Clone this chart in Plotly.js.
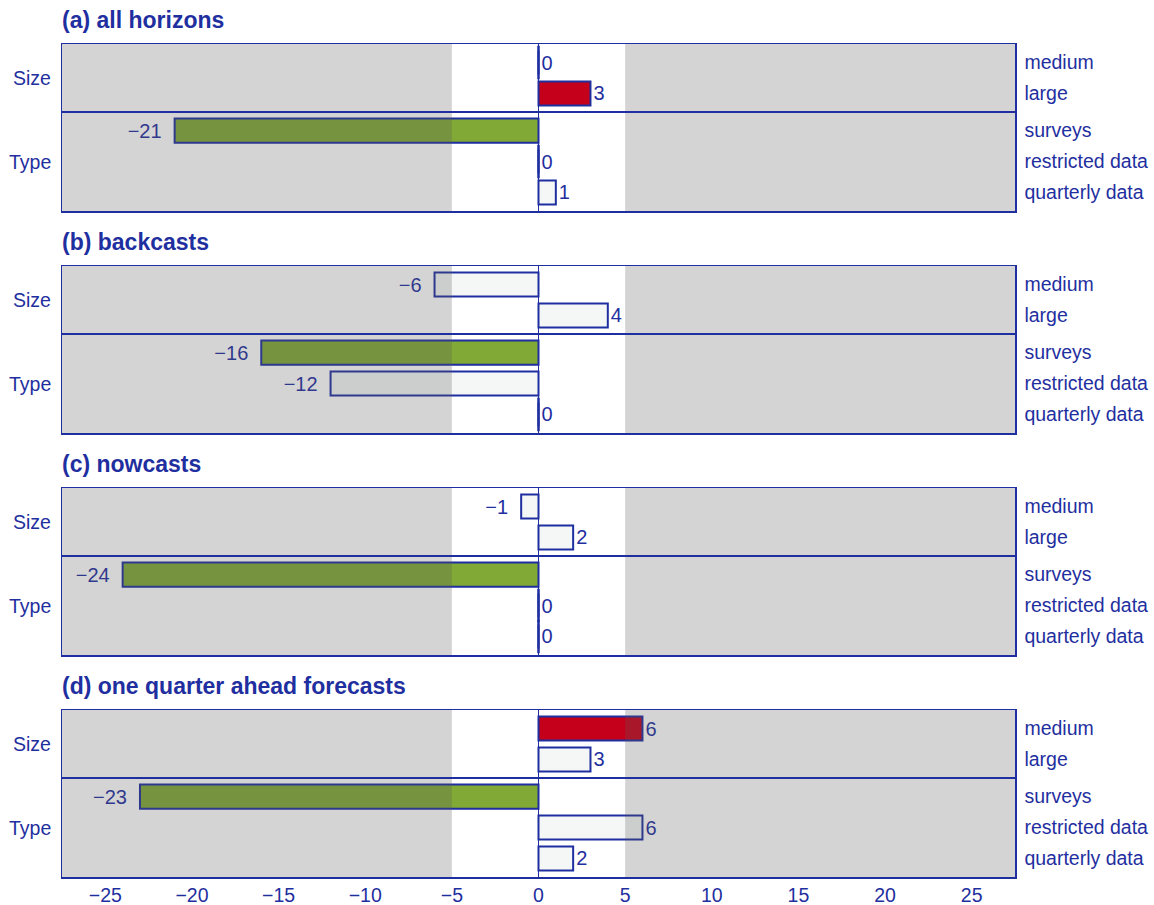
<!DOCTYPE html>
<html>
<head>
<meta charset="utf-8">
<script src="https://cdn.plot.ly/plotly-3.0.1.min.js"></script>
<style>
  html, body { margin: 0; padding: 0; background: #ffffff; }
  #chart { width: 1154px; height: 905px; }
</style>
</head>
<body>
<div id="chart"></div>
<script>
// Row labels (top to bottom within each panel) and their groups
const categories = ['medium', 'large', 'surveys', 'restricted data', 'quarterly data'];
const groups = ['Size', 'Type'];

// Panel titles
const panelTitles = [
  '(a) all horizons',
  '(b) backcasts',
  '(c) nowcasts',
  '(d) one quarter ahead forecasts'
];

// Values per panel (same order as categories)
const allHorizons   = [0, 3, -21, 0, 1];
const backcasts     = [-6, 4, -16, -12, 0];
const nowcasts      = [-1, 2, -24, 0, 0];
const oneQuarter    = [6, 3, -23, 6, 2];

// Highlighted (significant) entries per panel
const sigAllHorizons = [false, true, true, false, false];
const sigBackcasts   = [false, false, true, false, false];
const sigNowcasts    = [false, false, true, false, false];
const sigOneQuarter  = [true, false, true, false, false];

// x-axis ticks
const xTicks = [-25, -20, -15, -10, -5, 0, 5, 10, 15, 20, 25];

const panels = [
  { title: panelTitles[0], values: allHorizons, sig: sigAllHorizons },
  { title: panelTitles[1], values: backcasts,   sig: sigBackcasts },
  { title: panelTitles[2], values: nowcasts,    sig: sigNowcasts },
  { title: panelTitles[3], values: oneQuarter,  sig: sigOneQuarter }
];

// ---- styling ----
const BLUE = '#1f2fa0';
const RED = '#c4001a';
const GREEN = '#80a936';
const PALE = '#f5f7f7';
const SHADE = 'rgba(90,90,90,0.26)';
const FONT = 'Liberation Sans, Arial, sans-serif';
const XRANGE = [-27.5, 27.5];
const BAND = 5;            // unshaded band is [-BAND, BAND]
const GROUP_GAP = 0.2;     // extra space between Size and Type rows
const SIZE_ROWS = 2;       // first two rows belong to "Size"

// vertical position of each row on the numeric y axis
const rowPos = categories.map((c, i) => i + (i >= SIZE_ROWS ? GROUP_GAP : 0));
const sepPos = (rowPos[SIZE_ROWS - 1] + rowPos[SIZE_ROWS]) / 2;
const YRANGE = [rowPos[rowPos.length - 1] + 0.6, rowPos[0] - 0.6];

// panel domains (fractions of the plot area, top panel first)
const H = 833, PANEL = 167, GAP = 55;
const domains = panels.map((p, k) => {
  const top = k * (PANEL + GAP);
  return [1 - (top + PANEL) / H, 1 - top / H];
});

function fmt(v) {
  if (v < 0) return '\u2212' + Math.abs(v) + '\u2002';
  return String(v);
}

const data = [];
const layout = {
  width: 1154,
  height: 905,
  margin: { l: 62, r: 139, t: 44, b: 28 },
  paper_bgcolor: '#ffffff',
  plot_bgcolor: '#ffffff',
  showlegend: false,
  font: { family: FONT, color: BLUE, size: 20 },
  bargap: 0,
  annotations: [],
  shapes: []
};

panels.forEach((p, k) => {
  const n = k + 1;
  const xa = n === 1 ? 'x' : 'x' + n;
  const ya = n === 1 ? 'y' : 'y' + n;
  const xKey = n === 1 ? 'xaxis' : 'xaxis' + n;
  const yKey = n === 1 ? 'yaxis' : 'yaxis' + n;
  const last = k === panels.length - 1;

  data.push({
    type: 'bar',
    orientation: 'h',
    x: p.values,
    y: rowPos,
    xaxis: xa,
    yaxis: ya,
    width: 0.78,
    marker: {
      color: p.values.map((v, i) => p.sig[i] ? (v > 0 ? RED : GREEN) : PALE),
      line: { color: BLUE, width: 2 }
    },
    text: p.values.map(fmt),
    textposition: 'outside',
    textfont: { family: FONT, size: 20, color: BLUE },
    cliponaxis: false,
    hoverinfo: 'x+y'
  });

  // zero-valued entries are drawn as a short vertical stroke at 0
  const zeroIdx = p.values.map((v, i) => v === 0 ? i : -1).filter(i => i >= 0);
  data.push({
    type: 'scatter',
    mode: 'markers',
    x: zeroIdx.map(i => p.values[i]),
    y: zeroIdx.map(i => rowPos[i]),
    xaxis: xa,
    yaxis: ya,
    marker: { symbol: 'line-ns', size: 24, line: { color: BLUE, width: 2.5 } },
    cliponaxis: false,
    hoverinfo: 'skip'
  });

  layout[xKey] = {
    domain: [0, 1],
    anchor: ya,
    range: XRANGE,
    showgrid: false,
    zeroline: true,
    zerolinecolor: BLUE,
    zerolinewidth: 1,
    showline: true,
    mirror: true,
    linecolor: BLUE,
    linewidth: 1.5,
    ticks: '',
    tickvals: xTicks,
    showticklabels: last,
    tickfont: { family: FONT, size: 19.5, color: BLUE },
    fixedrange: true
  };
  if (!last) layout[xKey].matches = 'x4';

  layout[yKey] = {
    domain: domains[k],
    anchor: xa,
    side: 'right',
    range: YRANGE,
    showgrid: false,
    zeroline: false,
    showline: true,
    mirror: true,
    linecolor: BLUE,
    linewidth: 1.5,
    ticks: '',
    tickvals: rowPos,
    ticktext: categories,
    ticklabelstandoff: 4,
    tickfont: { family: FONT, size: 19.5, color: BLUE },
    fixedrange: true
  };

  // panel title
  layout.annotations.push({
    text: '<b>' + p.title + '</b>',
    xref: 'paper', yref: ya + ' domain',
    x: 0, y: 1, xanchor: 'left', yanchor: 'bottom',
    yshift: 9, xshift: -2,
    showarrow: false,
    font: { family: FONT, size: 23, color: BLUE }
  });

  // group labels on the left
  const sizeMid = (rowPos[0] + rowPos[SIZE_ROWS - 1]) / 2;
  const typeMid = (rowPos[SIZE_ROWS] + rowPos[rowPos.length - 1]) / 2;
  [[groups[0], sizeMid], [groups[1], typeMid]].forEach(([g, yv]) => {
    layout.annotations.push({
      text: g,
      xref: 'paper', yref: ya,
      x: 0, y: yv, xanchor: 'right', yanchor: 'middle',
      xshift: -9,
      showarrow: false,
      font: { family: FONT, size: 19.5, color: BLUE }
    });
  });

  // shaded regions outside the central band, laid over the bars
  layout.shapes.push({
    type: 'rect', xref: xa, yref: ya + ' domain',
    x0: XRANGE[0], x1: -BAND, y0: 0, y1: 1,
    fillcolor: SHADE, line: { width: 0 }, layer: 'above'
  });
  layout.shapes.push({
    type: 'rect', xref: xa, yref: ya + ' domain',
    x0: BAND, x1: XRANGE[1], y0: 0, y1: 1,
    fillcolor: SHADE, line: { width: 0 }, layer: 'above'
  });

  // divider between the Size and Type groups
  layout.shapes.push({
    type: 'line', xref: xa + ' domain', yref: ya,
    x0: 0, x1: 1, y0: sepPos, y1: sepPos,
    line: { color: BLUE, width: 2 }, layer: 'above'
  });
});

Plotly.newPlot('chart', data, layout, { displayModeBar: false, staticPlot: true });
</script>
</body>
</html>
